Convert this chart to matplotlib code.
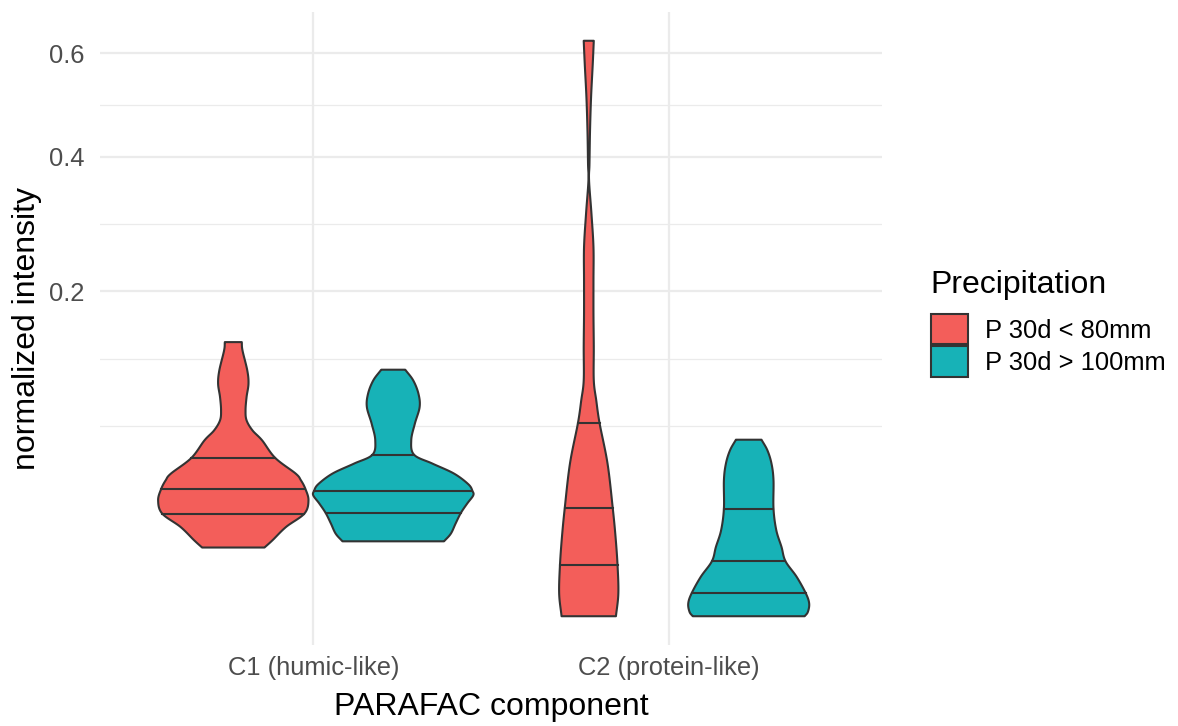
import matplotlib.pyplot as plt
from matplotlib.patches import Patch
import numpy as np

plt.rcParams['font.family'] = ['Liberation Sans', 'DejaVu Sans']

components = ["C1 (humic-like)", "C2 (protein-like)"]
groups = ["P 30d < 80mm", "P 30d > 100mm"]
colors = ["#F35E5A", "#17B2B7"]

# violin outlines: intensity levels (bottom to top) and half-width relative to the widest violin
c1_low_y = [0.0091, 0.0111, 0.0153, 0.0202, 0.0257, 0.0311, 0.0353, 0.0388, 0.0477, 0.0589,
            0.0657, 0.0730, 0.0806, 0.0913, 0.1027, 0.1147, 0.1341, 0.1426]
c1_low_w = [0.39, 0.49, 0.66, 0.89, 0.94, 0.90, 0.845, 0.78, 0.525, 0.36,
            0.24, 0.166, 0.153, 0.166, 0.19, 0.175, 0.115, 0.106]
c1_high_y = [0.0108, 0.0131, 0.0165, 0.0204, 0.0243, 0.0279, 0.0300, 0.0332, 0.0388, 0.0444,
             0.0497, 0.0589, 0.0705, 0.0832, 0.0941, 0.1056, 0.1154]
c1_high_w = [0.635, 0.72, 0.78, 0.845, 0.925, 1.0, 0.99, 0.94, 0.76, 0.49,
             0.26, 0.225, 0.27, 0.33, 0.315, 0.25, 0.15]
c2_low_y = [0.000001, 0.00104, 0.00505, 0.0121, 0.0224, 0.0444, 0.0710, 0.0885, 0.1056, 0.1374,
            0.1735, 0.2137, 0.2580, 0.3067, 0.3594, 0.3874, 0.4464, 0.5096, 0.5771, 0.6267]
c2_low_w = [0.34, 0.37, 0.36, 0.335, 0.30, 0.235, 0.135, 0.094, 0.063, 0.063,
            0.059, 0.059, 0.059, 0.034, 0.004, 0.009, 0.016, 0.029, 0.05, 0.063]
c2_high_y = [0.000001, 0.000049, 0.000343, 0.00104, 0.00303, 0.00587, 0.00926, 0.0142, 0.0222,
             0.0353, 0.0444, 0.0524, 0.0593]
c2_high_w = [0.70, 0.74, 0.756, 0.715, 0.60, 0.46, 0.41, 0.345, 0.31,
             0.31, 0.285, 0.234, 0.16]

# 25%, 50%, 75% quantiles
c1_low_q = [0.0202, 0.0311, 0.0477]
c1_high_q = [0.0204, 0.0300, 0.0497]
c2_low_q = [0.00505, 0.0224, 0.0710]
c2_high_q = [0.00104, 0.00587, 0.0222]

violins = [
    (0, 0, c1_low_y, c1_low_w, c1_low_q),
    (0, 1, c1_high_y, c1_high_w, c1_high_q),
    (1, 0, c2_low_y, c2_low_w, c2_low_q),
    (1, 1, c2_high_y, c2_high_w, c2_high_q),
]

yticks = [0.2, 0.4, 0.6]


def fwd(v):
    return np.sign(v) * np.sqrt(np.abs(v))


def inv(s):
    return np.sign(s) * s ** 2


def smooth_outline(s, w, n=16):
    # Catmull-Rom through the outline points (in sqrt space)
    pts = np.c_[s, w]
    p = np.vstack([2 * pts[0] - pts[1], pts, 2 * pts[-1] - pts[-2]])
    t = np.linspace(0, 1, n, endpoint=False)[:, None]
    segs = []
    for i in range(1, len(p) - 2):
        p0, p1, p2, p3 = p[i - 1], p[i], p[i + 1], p[i + 2]
        segs.append(0.5 * (2 * p1 + (p2 - p0) * t + (2 * p0 - 5 * p1 + 4 * p2 - p3) * t ** 2
                           + (3 * p1 - p0 - 3 * p2 + p3) * t ** 3))
    segs.append(pts[-1][None])
    out = np.vstack(segs)
    return out[:, 0], np.clip(out[:, 1], 0, None)


fig = plt.figure(figsize=(11.78, 7.26), dpi=100)
ax = fig.add_axes([100 / 1178, 1 - 645 / 726, 782 / 1178, 633 / 726])
ax.set_yscale('function', functions=(fwd, inv))

dodge = 0.225
edge = '#333333'
lw = 1.5
for comp, grp, ys, ws, qs in violins:
    ss, ww = smooth_outline(fwd(np.array(ys)), np.array(ws) * dodge)
    yy = inv(ss)
    xc = comp + (grp - 0.5) * 2 * dodge
    px = np.r_[xc + ww, (xc - ww)[::-1]]
    py = np.r_[yy, yy[::-1]]
    ax.fill(px, py, facecolor=colors[grp], edgecolor=edge, linewidth=lw, zorder=3,
            joinstyle='round')
    for q in qs:
        hw = np.interp(fwd(q), ss, ww)
        ax.plot([xc - hw, xc + hw], [q, q], color=edge, linewidth=lw, zorder=4)

# sqrt-space limits with 5% expansion
all_y = np.concatenate([v[2] for v in violins])
lo, hi = fwd(all_y.min()), fwd(all_y.max())
pad = 0.05 * (hi - lo)
ax.set_ylim(inv(lo - pad), inv(hi + pad))
ax.set_xlim(-0.6, 1.6)

s = fwd(np.array(yticks))
ext = np.r_[s[0] - (s[1] - s[0]), s]
minor = np.r_[ext[0], (ext[:-1] + ext[1:]) / 2]
ax.set_yticks(yticks)
ax.set_yticklabels([f"{t:.1f}" for t in yticks])
ax.set_yticks(inv(minor), minor=True)
ax.set_xticks([0, 1])
ax.set_xticklabels(components)

ax.grid(which='major', color='#EBEBEB', linewidth=1.6, zorder=0)
ax.grid(which='minor', axis='y', color='#EBEBEB', linewidth=0.9, zorder=0)
ax.set_axisbelow(True)
for sp in ax.spines.values():
    sp.set_visible(False)
ax.tick_params(which='both', length=0, labelsize=18.4, labelcolor='#4D4D4D')
ax.tick_params(axis='y', pad=11)
ax.tick_params(axis='x', pad=8)

ax.set_xlabel('PARAFAC component', fontsize=23)
ax.set_ylabel('normalized intensity', fontsize=23)
ax.xaxis.set_label_coords(0.5, -0.074)
ax.yaxis.set_label_coords(-0.074, 0.5)

fig.text(930 / 1178, 1 - 285 / 726, 'Precipitation', fontsize=23, va='center', ha='left')
handles = [Patch(facecolor=c, edgecolor=edge, linewidth=lw, label=g) for c, g in zip(colors, groups)]
fig.legend(handles=handles, loc='upper left', bbox_to_anchor=(931 / 1178, 1 - 314 / 726),
           frameon=False, fontsize=18.4, handlelength=1.45, handleheight=1.45,
           handletextpad=0.65, labelspacing=0.08, borderpad=0, borderaxespad=0)

fig.savefig('out.png', dpi=100)
